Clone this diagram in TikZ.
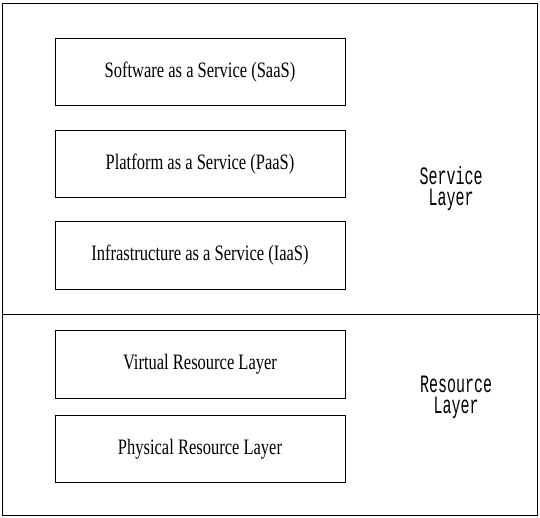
\documentclass[tikz,border=0pt]{standalone}
\usepackage{fontspec}
\setmainfont{Liberation Serif}
\newfontfamily\boxfont[FakeStretch=0.75]{Liberation Serif}
\newfontfamily\layerfont[FakeStretch=0.6]{Liberation Mono}
\usetikzlibrary{positioning}

\begin{document}
\begin{tikzpicture}[x=1pt,y=1pt,line width=0.8pt,
	layerbox/.style={draw, minimum width=290, minimum height=67.5, inner sep=0,
		font=\boxfont\fontsize{22}{24}\selectfont},
	layerlabel/.style={align=center, font=\layerfont\fontsize{25}{21}\selectfont}]
	\useasboundingbox (0,0) rectangle (540,518);
	
	\def\bx{200} % center of the boxes
	\coordinate (SW) at (2.5,3);
	\coordinate (NE) at (537,514.5);
	
	% outer frame
	\draw (SW) rectangle (NE);
	
	% service layer
	\node[layerbox] (saas) at (\bx,446) {Software as a Service (SaaS)};
	\node[layerbox] (paas) at (\bx,354) {Platform as a Service (PaaS)};
	\node[layerbox] (iaas) at (\bx,262.5) {Infrastructure as a Service (IaaS)};
	\node[layerlabel] (service) at (451,329) {Service\\Layer};
	
	% divider line
	\coordinate (DL) at (2.5,204);
	\coordinate (DR) at (540,204);
	\draw (DL) -- (DR);
	
	% resource layer
	\node[layerbox] (virtual) at (\bx,153.5) {Virtual Resource Layer};
	\node[layerbox] (physical) at (\bx,69) {Physical Resource Layer};
	\node[layerlabel] (resource) at (456,120.5) {Resource\\Layer};
\end{tikzpicture}
\end{document}
